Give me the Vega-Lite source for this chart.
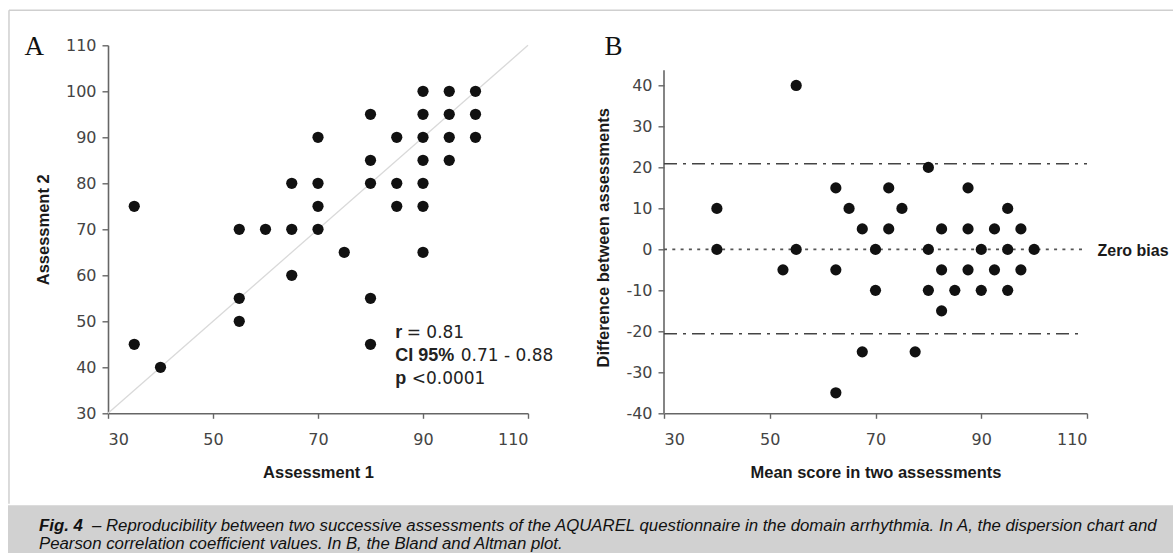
{
  "$schema": "https://vega.github.io/schema/vega-lite/v6.json",
  "background": "white",
  "padding": {"left": 8, "top": 9.3, "right": 0, "bottom": 0},
  "autosize": {"type": "pad"},
  "datasets": {
    "scatter": [
      {"a1": 35, "a2": 75}, {"a1": 35, "a2": 45}, {"a1": 40, "a2": 40},
      {"a1": 55, "a2": 70}, {"a1": 55, "a2": 55}, {"a1": 55, "a2": 50},
      {"a1": 60, "a2": 70},
      {"a1": 65, "a2": 80}, {"a1": 65, "a2": 70}, {"a1": 65, "a2": 60},
      {"a1": 70, "a2": 90}, {"a1": 70, "a2": 80}, {"a1": 70, "a2": 75}, {"a1": 70, "a2": 70},
      {"a1": 75, "a2": 65},
      {"a1": 80, "a2": 95}, {"a1": 80, "a2": 85}, {"a1": 80, "a2": 80}, {"a1": 80, "a2": 55}, {"a1": 80, "a2": 45},
      {"a1": 85, "a2": 90}, {"a1": 85, "a2": 80}, {"a1": 85, "a2": 75},
      {"a1": 90, "a2": 100}, {"a1": 90, "a2": 95}, {"a1": 90, "a2": 90}, {"a1": 90, "a2": 85}, {"a1": 90, "a2": 80}, {"a1": 90, "a2": 75}, {"a1": 90, "a2": 65},
      {"a1": 95, "a2": 100}, {"a1": 95, "a2": 95}, {"a1": 95, "a2": 90}, {"a1": 95, "a2": 85},
      {"a1": 100, "a2": 100}, {"a1": 100, "a2": 95}, {"a1": 100, "a2": 90}
    ],
    "bland": [
      {"m": 40, "d": 10}, {"m": 40, "d": 0}, {"m": 55, "d": 40}, {"m": 55, "d": 0},
      {"m": 52.5, "d": -5}, {"m": 62.5, "d": 15}, {"m": 62.5, "d": -5}, {"m": 62.5, "d": -35},
      {"m": 65, "d": 10}, {"m": 67.5, "d": 5}, {"m": 67.5, "d": -25}, {"m": 70, "d": 0},
      {"m": 70, "d": -10}, {"m": 72.5, "d": 15}, {"m": 72.5, "d": 5}, {"m": 75, "d": 10},
      {"m": 77.5, "d": -25}, {"m": 80, "d": 20}, {"m": 80, "d": 0}, {"m": 80, "d": -10},
      {"m": 82.5, "d": 5}, {"m": 82.5, "d": -5}, {"m": 82.5, "d": -15}, {"m": 85, "d": -10},
      {"m": 87.5, "d": 15}, {"m": 87.5, "d": 5}, {"m": 87.5, "d": -5}, {"m": 90, "d": 0},
      {"m": 90, "d": -10}, {"m": 92.5, "d": 5}, {"m": 92.5, "d": -5}, {"m": 95, "d": 10},
      {"m": 95, "d": 0}, {"m": 95, "d": -10}, {"m": 97.5, "d": 5}, {"m": 97.5, "d": -5},
      {"m": 100, "d": 0}
    ],
    "caption": [
      {"line": "1", "part": "bold", "text": "Fig. 4"},
      {"line": "1", "part": "reg", "text": "– Reproducibility between two successive assessments of the AQUAREL questionnaire in the domain arrhythmia. In A, the dispersion chart and"},
      {"line": "2", "part": "reg2", "text": "Pearson correlation coefficient values. In B, the Bland and Altman plot."}
    ]
  },
  "vconcat": [
    {
      "hconcat": [
        {
          "width": 520,
          "height": 368,
          "encoding": {
            "x": {"field": "a1", "type": "quantitative",
                  "scale": {"domain": [30, 110], "range": [100, 520], "nice": false, "zero": false},
                  "axis": {"values": [30, 50, 70, 90, 110], "title": "Assessment 1"}},
            "y": {"field": "a2", "type": "quantitative",
                  "scale": {"domain": [30, 110], "nice": false, "zero": false},
                  "axis": {"values": [30, 40, 50, 60, 70, 80, 90, 100, 110], "title": "Assessment 2", "offset": -100}}
          },
          "layer": [
            {
              "data": {"values": [
                {"a1": 11.14, "a2": 117.6, "a1b": 232.9, "a2b": 117.6},
                {"a1": 11.14, "a2": 117.6, "a1b": 11.14, "a2b": 10.33}
              ]},
              "mark": {"type": "rule", "color": "#cfcfcf", "strokeWidth": 1.5},
              "encoding": {"x2": {"field": "a1b"}, "y2": {"field": "a2b"}}
            },
            {
              "data": {"values": [{"a1": 30, "a2": 30}, {"a1": 110, "a2": 110}]},
              "mark": {"type": "line", "color": "#d9d9d9", "strokeWidth": 1.3}
            },
            {
              "data": {"name": "scatter"},
              "mark": {"type": "circle", "size": 125, "color": "#111111", "opacity": 1}
            },
            {
              "data": {"values": [{"label": "A", "a1": 30, "a2": 110}]},
              "mark": {"type": "text", "align": "left", "baseline": "alphabetic", "dx": -83.5, "dy": 10,
                       "font": "Liberation Serif", "fontSize": 27, "color": "#111111"},
              "encoding": {"text": {"field": "label"}}
            },
            {
              "data": {"values": [
                {"t": "r", "a1": 84.7, "a2": 46.46},
                {"t": "CI 95%", "a1": 84.7, "a2": 41.37},
                {"t": "p", "a1": 84.7, "a2": 36.46}
              ]},
              "mark": {"type": "text", "align": "left", "baseline": "alphabetic",
                       "font": "Liberation Sans", "fontSize": 18, "fontWeight": "bold", "color": "#222222"},
              "encoding": {"text": {"field": "t"}}
            },
            {
              "data": {"values": [
                {"t": "= 0.81", "a1": 86.9, "a2": 46.46},
                {"t": "0.71 - 0.88", "a1": 97.2, "a2": 41.37},
                {"t": "<0.0001", "a1": 87.85, "a2": 36.46}
              ]},
              "mark": {"type": "text", "align": "left", "baseline": "alphabetic",
                       "font": "DejaVu Sans", "fontSize": 17, "color": "#222222"},
              "encoding": {"text": {"field": "t"}}
            }
          ]
        },
        {
          "width": 423,
          "height": 368,
          "encoding": {
            "x": {"field": "m", "type": "quantitative",
                  "scale": {"domain": [30, 110], "nice": false, "zero": false},
                  "axis": {"values": [30, 50, 70, 90, 110], "title": "Mean score in two assessments"}},
            "y": {"field": "d", "type": "quantitative",
                  "scale": {"domain": [-40, 49.8], "nice": false, "zero": false},
                  "axis": {"values": [-40, -30, -20, -10, 0, 10, 20, 30, 40], "domain": false,
                           "labelExpr": "'' + datum.value",
                           "title": "Difference between assessments", "titleY": 192}}
          },
          "layer": [
            {
              "data": {"values": [{"m": 30, "d": -40, "d2": 43.7}]},
              "mark": {"type": "rule", "color": "#666666", "strokeWidth": 1.6},
              "encoding": {"y2": {"field": "d2"}}
            },
            {
              "data": {"values": [{"m": 30, "m2": 110, "d": 20.9}, {"m": 30, "m2": 109, "d": -20.6}]},
              "mark": {"type": "rule", "color": "#444444", "strokeWidth": 1.5, "strokeDash": [13, 6, 3, 6]},
              "encoding": {"x2": {"field": "m2"}}
            },
            {
              "data": {"values": [{"m": 30, "m2": 110, "d": 0}]},
              "mark": {"type": "rule", "color": "#555555", "strokeWidth": 1.6, "strokeDash": [3, 5.3]},
              "encoding": {"x2": {"field": "m2"}}
            },
            {
              "data": {"name": "bland"},
              "mark": {"type": "circle", "size": 125, "color": "#111111", "opacity": 1}
            },
            {
              "data": {"values": [{"label": "B", "m": 30, "d": 40}]},
              "mark": {"type": "text", "align": "left", "baseline": "alphabetic", "dx": -59.5, "dy": -30.3,
                       "font": "Liberation Serif", "fontSize": 27, "color": "#111111"},
              "encoding": {"text": {"field": "label"}}
            },
            {
              "data": {"values": [{"label": "Zero bias", "m": 110, "d": 0}]},
              "mark": {"type": "text", "align": "left", "baseline": "middle", "dx": 10.5, "dy": 2,
                       "font": "Liberation Sans", "fontSize": 16, "fontWeight": "bold", "color": "#1a1a1a"},
              "encoding": {"text": {"field": "label"}}
            }
          ]
        }
      ],
      "spacing": 136,
      "bounds": "flush"
    },
    {
      "width": 1165,
      "height": 49,
      "view": {"fill": "#d1d1d1", "stroke": null},
      "data": {"name": "caption"},
      "encoding": {
        "x": {"datum": 0, "type": "quantitative", "scale": {"domain": [0, 1]}, "axis": null},
        "y": {"field": "line", "type": "ordinal", "scale": {"type": "point", "range": [26, 44], "padding": 0}, "axis": null},
        "text": {"field": "text"}
      },
      "layer": [
        {
          "transform": [{"filter": "datum.part == 'bold'"}],
          "mark": {"type": "text", "align": "left", "baseline": "alphabetic", "dx": 31,
                   "font": "Liberation Sans", "fontSize": 16.8, "fontStyle": "italic", "fontWeight": "bold", "color": "#111111"}
        },
        {
          "transform": [{"filter": "datum.part == 'reg'"}],
          "mark": {"type": "text", "align": "left", "baseline": "alphabetic", "dx": 84,
                   "font": "Liberation Sans", "fontSize": 16.8, "fontStyle": "italic", "color": "#111111"}
        },
        {
          "transform": [{"filter": "datum.part == 'reg2'"}],
          "mark": {"type": "text", "align": "left", "baseline": "alphabetic", "dx": 31,
                   "font": "Liberation Sans", "fontSize": 16.8, "fontStyle": "italic", "color": "#111111"}
        }
      ]
    }
  ],
  "spacing": 0,
  "config": {
    "view": {"stroke": null},
    "axis": {
      "grid": false,
      "domainColor": "#666666", "domainWidth": 1.6,
      "tickColor": "#666666", "tickWidth": 1.4, "tickSize": 6,
      "labelFont": "DejaVu Sans", "labelFontSize": 16, "labelColor": "#444444", "labelPadding": 6,
      "titleFont": "Liberation Sans", "titleFontSize": 16.5, "titleFontWeight": "bold", "titleColor": "#1a1a1a", "titlePadding": 14
    },
    "axisX": {"tickSize": 5, "labelPadding": 13, "titlePadding": 17}
  }
}
